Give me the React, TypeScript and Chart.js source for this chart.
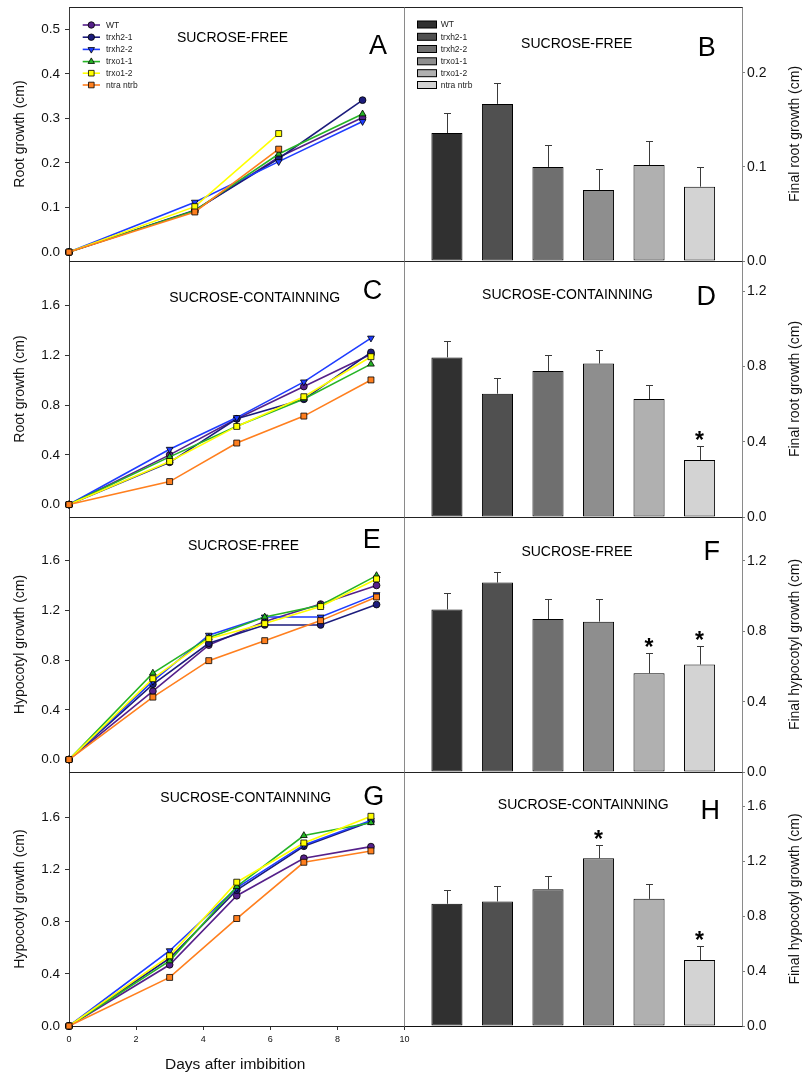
import React, { useEffect, useRef } from 'react';
import { Chart, registerables } from 'chart.js';

Chart.register(...registerables);

const PAGE_W = 803;
const PAGE_H = 1077;
const OFF = 40;
const CANVAS_H = PAGE_H + 2 * OFF;
const FONT = "'Liberation Sans', Arial, Helvetica, sans-serif";

// ---------------- data ----------------
const GENOTYPES = ['WT', 'trxh2-1', 'trxh2-2', 'trxo1-1', 'trxo1-2', 'ntra ntrb'];
const GENOTYPE_INDEX = [0, 1, 2, 3, 4, 5];

// Panel A: root growth, sucrose-free (days after imbibition)
const DAYS_A = [0, 3, 5, 7];
const A_WT = [0, 0.093, 0.213, 0.302];
const A_TRXH21 = [0, 0.094, 0.21, 0.341];
const A_TRXH22 = [0, 0.112, 0.203, 0.293];
const A_TRXO11 = [0, 0.093, 0.22, 0.31];
const A_TRXO12 = [0, 0.102, 0.266, null];
const A_NTRA = [0, 0.09, 0.231, null];

// Panel C: root growth, sucrose-containing
const DAYS_C = [0, 3, 5, 7, 9];
const C_WT = [0, 0.4, 0.69, 0.95, 1.21];
const C_TRXH21 = [0, 0.34, 0.69, 0.847, 1.225];
const C_TRXH22 = [0, 0.445, 0.7, 0.987, 1.34];
const C_TRXO11 = [0, 0.384, 0.63, 0.85, 1.13];
const C_TRXO12 = [0, 0.347, 0.629, 0.868, 1.19];
const C_NTRA = [0, 0.185, 0.495, 0.712, 1.003];

// Panel E: hypocotyl growth, sucrose-free
const DAYS_E = [0, 3, 5, 7, 9, 11];
const E_WT = [0, 0.55, 0.92, 1.11, 1.25, 1.4];
const E_TRXH21 = [0, 0.605, 0.935, 1.082, 1.082, 1.246];
const E_TRXH22 = [0, 0.63, 1.0, 1.146, 1.146, 1.326];
const E_TRXO11 = [0, 0.695, 0.98, 1.146, 1.24, 1.479];
const E_TRXO12 = [0, 0.65, 0.972, 1.093, 1.23, 1.452];
const E_NTRA = [0, 0.502, 0.795, 0.956, 1.117, 1.307];

// Panel G: hypocotyl growth, sucrose-containing
const DAYS_G = [0, 3, 5, 7, 9];
const G_WT = [0, 0.47, 1.0, 1.288, 1.377];
const G_TRXH21 = [0, 0.52, 1.043, 1.38, 1.57];
const G_TRXH22 = [0, 0.578, 1.06, 1.39, 1.577];
const G_TRXO11 = [0, 0.5, 1.07, 1.462, 1.561];
const G_TRXO12 = [0, 0.539, 1.104, 1.405, 1.61];
const G_NTRA = [0, 0.373, 0.825, 1.257, 1.344];

// Bar panels: final growth (mean, SE, significance)
const B_MEAN = [0.136, 0.167, 0.1, 0.0755, 0.102, 0.079];
const B_ERR = [0.021, 0.022, 0.023, 0.0225, 0.026, 0.021];
const B_SIG = [0, 0, 0, 0, 0, 0];

const D_MEAN = [0.848, 0.655, 0.775, 0.815, 0.627, 0.303];
const D_ERR = [0.087, 0.083, 0.087, 0.07, 0.076, 0.074];
const D_SIG = [0, 0, 0, 0, 0, 1];

const F_MEAN = [0.924, 1.077, 0.87, 0.855, 0.561, 0.611];
const F_ERR = [0.096, 0.061, 0.114, 0.129, 0.114, 0.104];
const F_SIG = [0, 0, 0, 0, 1, 1];

const H_MEAN = [0.89, 0.907, 0.996, 1.222, 0.926, 0.48];
const H_ERR = [0.097, 0.111, 0.1, 0.094, 0.107, 0.102];
const H_SIG = [0, 0, 0, 1, 0, 1];

// Tick labels
const A_TICKS = [0, 0.1, 0.2, 0.3, 0.4, 0.5];
const CEG_TICKS = [0, 0.4, 0.8, 1.2, 1.6];
const B_TICKS = [0, 0.1, 0.2];
const DF_TICKS = [0, 0.4, 0.8, 1.2];
const H_TICKS = [0, 0.4, 0.8, 1.2, 1.6];
const DAY_TICKS = [0, 2, 4, 6, 8, 10];

// ---------------- styles ----------------
const SERIES_STYLE = [
  { color: '#55208a', shape: 'circle', rotation: 0, radius: 3.4 },
  { color: '#1c1c7c', shape: 'circle', rotation: 0, radius: 3.4 },
  { color: '#1e3cff', shape: 'triangle', rotation: 180, radius: 3.9 },
  { color: '#26b426', shape: 'triangle', rotation: 0, radius: 3.9 },
  { color: '#ffff00', shape: 'rect', rotation: 0, radius: 4.2 },
  { color: '#ff7f1e', shape: 'rect', rotation: 0, radius: 4.2 },
];
const BAR_COLORS = ['#303030', '#505050', '#6f6f6f', '#8e8e8e', '#b0b0b0', '#d3d3d3'];

const LINE_PANELS = [
  {
    letter: 'A', days: DAYS_A, series: [A_WT, A_TRXH21, A_TRXH22, A_TRXO11, A_TRXO12, A_NTRA],
    ticks: A_TICKS, yMin: -0.02, yMax: 0.55, xMax: 8, top: 7, bottom: 261, showX: false,
    title: 'SUCROSE-FREE', titleX: 232.5, titleY: 37, letterX: 378, letterY: 44.5,
    yTitle: 'Root growth (cm)', legend: true,
  },
  {
    letter: 'C', days: DAYS_C, series: [C_WT, C_TRXH21, C_TRXH22, C_TRXO11, C_TRXO12, C_NTRA],
    ticks: CEG_TICKS, yMin: -0.1, yMax: 1.96, xMax: 10, top: 261, bottom: 517, showX: false,
    title: 'SUCROSE-CONTAINNING', titleX: 254.7, titleY: 297, letterX: 372.5, letterY: 289.2,
    yTitle: 'Root growth (cm)', legend: false,
  },
  {
    letter: 'E', days: DAYS_E, series: [E_WT, E_TRXH21, E_TRXH22, E_TRXO11, E_TRXO12, E_NTRA],
    ticks: CEG_TICKS, yMin: -0.1, yMax: 1.95, xMax: 12, top: 517, bottom: 772, showX: false,
    title: 'SUCROSE-FREE', titleX: 243.5, titleY: 545, letterX: 371.7, letterY: 538.3,
    yTitle: 'Hypocotyl growth (cm)', legend: false,
  },
  {
    letter: 'G', days: DAYS_G, series: [G_WT, G_TRXH21, G_TRXH22, G_TRXO11, G_TRXO12, G_NTRA],
    ticks: CEG_TICKS, yMin: 0, yMax: 1.95, xMax: 10, top: 772, bottom: 1026, showX: true,
    title: 'SUCROSE-CONTAINNING', titleX: 245.8, titleY: 797, letterX: 373.7, letterY: 795.5,
    yTitle: 'Hypocotyl growth (cm)', legend: false,
  },
];

const BAR_PANELS = [
  {
    letter: 'B', mean: B_MEAN, err: B_ERR, sig: B_SIG, ticks: B_TICKS, yMax: 0.27, top: 7, bottom: 261,
    title: 'SUCROSE-FREE', titleX: 576.7, titleY: 43.3, letterX: 706.7, letterY: 46.3,
    yTitle: 'Final root growth (cm)', legend: true,
  },
  {
    letter: 'D', mean: D_MEAN, err: D_ERR, sig: D_SIG, ticks: DF_TICKS, yMax: 1.36, top: 261, bottom: 517,
    title: 'SUCROSE-CONTAINNING', titleX: 567.5, titleY: 294.2, letterX: 706.3, letterY: 295,
    yTitle: 'Final root growth (cm)', legend: false,
  },
  {
    letter: 'F', mean: F_MEAN, err: F_ERR, sig: F_SIG, ticks: DF_TICKS, yMax: 1.45, top: 517, bottom: 772,
    title: 'SUCROSE-FREE', titleX: 577, titleY: 550.5, letterX: 711.7, letterY: 550,
    yTitle: 'Final hypocotyl growth (cm)', legend: false,
  },
  {
    letter: 'H', mean: H_MEAN, err: H_ERR, sig: H_SIG, ticks: H_TICKS, yMax: 1.85, top: 772, bottom: 1026,
    title: 'SUCROSE-CONTAINNING', titleX: 583.3, titleY: 804.2, letterX: 710.3, letterY: 809.3,
    yTitle: 'Final hypocotyl growth (cm)', legend: false,
  },
];

const LEFT_X0 = 69;
const MID_X = 404.5;
const RIGHT_X1 = 742;

// ---------------- helpers ----------------
const yc = (y: number) => y + OFF;

function drawMarker(ctx: CanvasRenderingContext2D, shape: string, rotation: number, r: number, x: number, y: number, fill: string) {
  ctx.beginPath();
  if (shape === 'circle') {
    ctx.arc(x, y, r, 0, Math.PI * 2);
  } else if (shape === 'rect') {
    const s = r * Math.SQRT1_2;
    ctx.rect(x - s, y - s, 2 * s, 2 * s);
  } else {
    const rot = (rotation * Math.PI) / 180;
    for (let k = 0; k < 3; k++) {
      const ang = rot + (k * 2 * Math.PI) / 3;
      const px = x + Math.sin(ang) * r;
      const py = y - Math.cos(ang) * r;
      if (k === 0) ctx.moveTo(px, py); else ctx.lineTo(px, py);
    }
    ctx.closePath();
  }
  ctx.fillStyle = fill;
  ctx.fill();
  ctx.lineWidth = 0.8;
  ctx.strokeStyle = '#000';
  ctx.stroke();
}

function hline(ctx: CanvasRenderingContext2D, x1: number, x2: number, y: number, color: string) {
  ctx.beginPath();
  ctx.strokeStyle = color;
  ctx.lineWidth = 1;
  ctx.moveTo(x1, y);
  ctx.lineTo(x2, y);
  ctx.stroke();
}
function vline(ctx: CanvasRenderingContext2D, x: number, y1: number, y2: number, color: string) {
  ctx.beginPath();
  ctx.strokeStyle = color;
  ctx.lineWidth = 1;
  ctx.moveTo(x, y1);
  ctx.lineTo(x, y2);
  ctx.stroke();
}

function makeFrame(colors: { top: string; bottom: string; left: string; right: string }) {
  return {
    id: 'frame',
    beforeDatasetsDraw(chart: any) {
      const { ctx, chartArea: a } = chart;
      const L = Math.floor(a.left) + 0.5;
      const R = Math.floor(a.right) + 0.5;
      const T = Math.floor(a.top) + 0.5;
      const B = Math.floor(a.bottom) + 0.5;
      ctx.save();
      hline(ctx, L - 0.5, R + 0.5, T, colors.top);
      hline(ctx, L - 0.5, R + 0.5, B, colors.bottom);
      vline(ctx, L, T, B, colors.left);
      vline(ctx, R, T, B, colors.right);
      ctx.restore();
    },
  };
}

function makeAnnot(p: any, side: 'left' | 'right', extra?: (chart: any) => void) {
  return {
    id: 'annot',
    afterDraw(chart: any) {
      const { ctx, chartArea: a } = chart;
      ctx.save();
      ctx.fillStyle = '#000';
      ctx.textAlign = 'center';
      ctx.textBaseline = 'alphabetic';
      ctx.font = `14px ${FONT}`;
      ctx.fillText(p.title, p.titleX, yc(p.titleY) + 5);
      ctx.font = `27px ${FONT}`;
      ctx.fillText(p.letter, p.letterX, yc(p.letterY) + 9.6);
      // axis title
      ctx.save();
      const tx = side === 'left' ? 20 : 795.5;
      ctx.translate(tx, (a.top + a.bottom) / 2);
      ctx.rotate(-Math.PI / 2);
      ctx.font = `14px ${FONT}`;
      ctx.textBaseline = 'middle';
      ctx.fillStyle = '#111';
      ctx.fillText(p.yTitle, 0, 0);
      ctx.restore();
      if (extra) extra(chart);
      ctx.restore();
    },
  };
}

function lineLegend(chart: any) {
  const ctx = chart.ctx as CanvasRenderingContext2D;
  const rows = [25, 37.2, 49.4, 61.6, 73.2, 85];
  GENOTYPES.forEach((g, i) => {
    const st = SERIES_STYLE[i];
    const y = yc(rows[i]);
    ctx.beginPath();
    ctx.strokeStyle = st.color;
    ctx.lineWidth = 1.6;
    ctx.moveTo(82.7, y);
    ctx.lineTo(100, y);
    ctx.stroke();
    drawMarker(ctx, st.shape, st.rotation, st.radius * 0.95, 91.3, y, st.color);
    ctx.fillStyle = '#222';
    ctx.font = `8.5px ${FONT}`;
    ctx.textAlign = 'left';
    ctx.textBaseline = 'middle';
    ctx.fillText(g, 106, y + 0.5);
  });
}

function barLegend(chart: any) {
  const ctx = chart.ctx as CanvasRenderingContext2D;
  const rows = [24.5, 36.8, 49, 61.3, 73.2, 85];
  GENOTYPES.forEach((g, i) => {
    const y = yc(rows[i]);
    ctx.fillStyle = BAR_COLORS[i];
    ctx.fillRect(417, y - 3.5, 19.5, 7);
    ctx.strokeStyle = '#000';
    ctx.lineWidth = 1;
    ctx.strokeRect(417.5, y - 3.5, 19, 7);
    ctx.fillStyle = '#222';
    ctx.font = `8.5px ${FONT}`;
    ctx.textAlign = 'left';
    ctx.textBaseline = 'middle';
    ctx.fillText(g, 440.7, y + 0.5);
  });
}

function makeErrorBars(p: any) {
  return {
    id: 'errbars',
    afterDatasetsDraw(chart: any) {
      const { ctx } = chart;
      const yScale = chart.scales.y;
      const meta = chart.getDatasetMeta(0);
      ctx.save();
      meta.data.forEach((bar: any, i: number) => {
        const x = Math.round(bar.x) + 0.5;
        const yTop = bar.y;
        const yErr = yScale.getPixelForValue(p.mean[i] + p.err[i]);
        const ye = Math.round(yErr) + 0.5;
        ctx.beginPath();
        ctx.strokeStyle = '#3a3a3a';
        ctx.lineWidth = 1;
        ctx.moveTo(x, yTop);
        ctx.lineTo(x, ye);
        ctx.moveTo(x - 3.5, ye);
        ctx.lineTo(x + 3.5, ye);
        ctx.stroke();
        if (p.sig[i]) {
          ctx.fillStyle = '#000';
          ctx.font = `bold 23px ${FONT}`;
          ctx.textAlign = 'center';
          ctx.textBaseline = 'alphabetic';
          ctx.fillText('*', bar.x, ye + 1.5);
        }
      });
      ctx.restore();
    },
  };
}

function lineConfig(p: any) {
  const xH = p.showX ? 24 : 0;
  return {
    type: 'line',
    data: {
      datasets: p.series.map((ys: (number | null)[], i: number) => {
        const st = SERIES_STYLE[i];
        const pts = p.days
          .map((d: number, j: number) => ({ x: d, y: ys[j] }))
          .filter((pt: any) => pt.y !== null);
        return {
          label: GENOTYPES[i],
          data: pts,
          borderColor: st.color,
          backgroundColor: st.color,
          borderWidth: 1.6,
          pointStyle: st.shape,
          pointRotation: st.rotation,
          pointRadius: st.radius,
          pointBackgroundColor: st.color,
          pointBorderColor: '#000',
          pointBorderWidth: 0.8,
          tension: 0,
          fill: false,
          clip: false,
          order: SERIES_STYLE.length - 1 - i,
        };
      }),
    },
    options: {
      responsive: false,
      maintainAspectRatio: false,
      animation: false,
      devicePixelRatio: 1,
      layout: {
        autoPadding: false,
        padding: {
          left: 0,
          right: PAGE_W - MID_X,
          top: yc(p.top),
          bottom: CANVAS_H - yc(p.bottom) - xH,
        },
      },
      plugins: { legend: { display: false }, tooltip: { enabled: false } },
      scales: {
        x: {
          type: 'linear',
          min: 0,
          max: p.xMax,
          display: p.showX,
          border: { display: false },
          grid: { drawOnChartArea: false, drawTicks: true, tickLength: 4, color: '#333' },
          ticks: {
            autoSkip: false,
            maxRotation: 0,
            padding: 4,
            color: '#111',
            font: { family: FONT, size: 9 },
          },
          afterBuildTicks: (s: any) => {
            s.ticks = DAY_TICKS.map((v) => ({ value: v }));
          },
          afterFit: (s: any) => {
            s.height = xH;
          },
        },
        y: {
          type: 'linear',
          position: 'left',
          min: p.yMin,
          max: p.yMax,
          border: { display: false },
          grid: { drawOnChartArea: false, drawTicks: true, tickLength: 4, color: '#333' },
          ticks: {
            autoSkip: false,
            padding: 5,
            color: '#111',
            font: { family: FONT, size: 13.5 },
            callback: (v: any) => Number(v).toFixed(1),
          },
          afterBuildTicks: (s: any) => {
            s.ticks = p.ticks.map((v: number) => ({ value: v }));
          },
          afterFit: (s: any) => {
            s.width = LEFT_X0;
          },
        },
      },
    },
    plugins: [
      makeFrame({ top: '#222', bottom: '#222', left: '#3a3a3a', right: '#8a8a8a' }),
      makeAnnot(p, 'left', (chart: any) => {
        if (p.legend) lineLegend(chart);
        if (p.showX) {
          const ctx = chart.ctx;
          const a = chart.chartArea;
          ctx.fillStyle = '#111';
          ctx.font = `15.5px ${FONT}`;
          ctx.textAlign = 'center';
          ctx.textBaseline = 'middle';
          ctx.fillText('Days after imbibition', (a.left + a.right) / 2 - 1.5, yc(1065));
        }
      }),
    ],
  };
}

function barConfig(p: any) {
  return {
    type: 'bar',
    data: {
      datasets: [
        {
          label: 'Final growth',
          data: p.mean.map((v: number, i: number) => ({ x: GENOTYPE_INDEX[i], y: v })),
          backgroundColor: BAR_COLORS,
          borderColor: '#000',
          borderWidth: 1,
          borderSkipped: false,
          barPercentage: 0.615,
          categoryPercentage: 1,
        },
      ],
    },
    options: {
      responsive: false,
      maintainAspectRatio: false,
      animation: false,
      devicePixelRatio: 1,
      layout: {
        autoPadding: false,
        padding: {
          left: MID_X,
          right: 0,
          top: yc(p.top),
          bottom: CANVAS_H - yc(p.bottom),
        },
      },
      plugins: { legend: { display: false }, tooltip: { enabled: false } },
      scales: {
        x: {
          type: 'linear',
          min: -0.84,
          max: 5.84,
          offset: false,
          display: false,
          grid: { offset: false },
          afterBuildTicks: (s: any) => {
            s.ticks = GENOTYPE_INDEX.map((v) => ({ value: v }));
          },
        },
        y: {
          type: 'linear',
          position: 'right',
          min: 0,
          max: p.yMax,
          border: { display: false },
          grid: { drawOnChartArea: false, drawTicks: true, tickLength: 3, color: '#808080' },
          ticks: {
            autoSkip: false,
            padding: 2,
            color: '#111',
            font: { family: FONT, size: 14 },
            callback: (v: any) => Number(v).toFixed(1),
          },
          afterBuildTicks: (s: any) => {
            s.ticks = p.ticks.map((v: number) => ({ value: v }));
          },
          afterFit: (s: any) => {
            s.width = PAGE_W - RIGHT_X1;
          },
        },
      },
    },
    plugins: [
      makeFrame({ top: '#222', bottom: '#111', left: '#8a8a8a', right: '#8a8a8a' }),
      makeErrorBars(p),
      makeAnnot(p, 'right', (chart: any) => {
        if (p.legend) barLegend(chart);
      }),
    ],
  };
}

export default function App() {
  const refs = useRef<(HTMLCanvasElement | null)[]>([]);
  useEffect(() => {
    const charts: Chart[] = [];
    LINE_PANELS.forEach((p, i) => {
      const c = refs.current[i];
      if (c) charts.push(new Chart(c, lineConfig(p) as any));
    });
    BAR_PANELS.forEach((p, i) => {
      const c = refs.current[4 + i];
      if (c) charts.push(new Chart(c, barConfig(p) as any));
    });
    return () => charts.forEach((c) => c.destroy());
  }, []);
  return (
    <div
      style={{
        position: 'absolute',
        left: 0,
        top: 0,
        width: PAGE_W,
        height: PAGE_H,
        overflow: 'hidden',
        background: '#fff',
      }}
    >
      {Array.from({ length: 8 }).map((_, i) => (
        <canvas
          key={i}
          ref={(el) => {
            refs.current[i] = el;
          }}
          width={PAGE_W}
          height={CANVAS_H}
          style={{ position: 'absolute', left: 0, top: -OFF, width: PAGE_W, height: CANVAS_H }}
        />
      ))}
    </div>
  );
}
